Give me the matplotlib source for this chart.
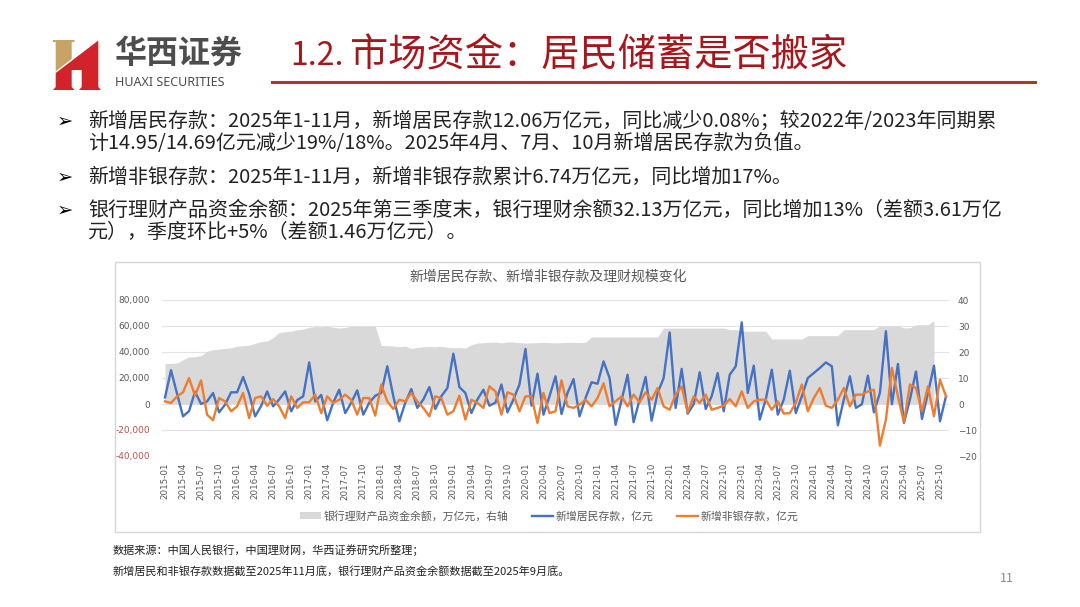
import numpy as np
import pandas as pd
import matplotlib
matplotlib.use('Agg')
import matplotlib.pyplot as plt
from matplotlib.patches import Rectangle, Polygon, Patch
from matplotlib.lines import Line2D
from matplotlib.ticker import FuncFormatter

plt.rcParams['font.family'] = ['Noto Sans CJK SC', 'DejaVu Sans']

# 月份 2015-01 ~ 2025-11
months = list(pd.date_range('2015-01-01', periods=131, freq='MS').strftime('%Y-%m'))

# 新增居民存款，亿元
household = [
    5000, 26000, 8000, -9500, -5500, 9500, 0, 2000, 8500, -6400, -500, 9000,
    9000, 20800, 8000, -9500, -1500, 9700, -1800, 3500, 9700, -5600, 3000, 5900,
    32000, 2000, 7000, -12500, 1000, 11000, -7000, 1000, 10500, -8200, 1000, 6400,
    8500, 29000, 6000, -13300, 1000, 11500, -3000, 3500, 13000, -3800, 6000, 12300,
    38700, 13000, 8500, -7000, 3500, 11000, -1300, 1000, 15000, -6400, 3500, 15000,
    42300, -1300, 23300, -8200, 6000, 21300, -7700, 8500, 19200, -9500, 4600, 16700,
    15600, 32800, 20000, -16000, 3000, 22500, -14000, 3500, 20800, -12800, 8500, 20000,
    55000, -3000, 27000, -7400, -200, 24400, -3800, 6000, 23800, -5600, 22500, 29000,
    62800, 8500, 29500, -12000, 3500, 26400, -8200, 3500, 25600, -7000, 6000, 20000,
    23800, 27700, 32000, 29000, -16400, 3500, 21300, -3000, -200, 21800, -6400, 8500,
    56000, -200, 30800, -14600, 3500, 25000, -11500, 8500, 29500, -13300, 6000,
]

# 新增非银存款，亿元
nonbank = [
    2000, 800, 5900, 9000, 20000, 6400, 18200, -8200, -12500, 4600, 2000, -5600,
    -1800, 8500, -10800, 4600, 5900, -1300, 3800, -1800, -10800, 5900, -3000, 1300,
    1300, 7200, -7000, 5900, 800, 3300, 7200, 3300, -8200, 4600, 4600, -9000,
    15000, 2000, -3800, 3300, 2000, 8500, 2000, -3000, -9500, 5900, 4600, -8200,
    -5600, 6400, -12000, 3300, 800, -3000, 13600, 9700, -8200, 9000, 7200, -5600,
    5900, 5900, -14600, 8500, -7000, -5600, 18200, -1800, -3000, -500, 3300, -1800,
    4600, 16000, -1800, 2000, 5900, -1800, 7200, 1300, 9000, 3300, 12300, -1800,
    -4400, 7200, 13600, -6400, 5900, 800, 7200, -4400, -3000, -1300, 3800, -1800,
    9700, -3000, 2000, 3300, 3300, -4400, 2000, -7400, -7000, 800, 15000, -5600,
    4600, 12300, -1300, -3000, 3300, 12300, -1800, 7200, 7200, 9700, 11000, -32000,
    -12000, 27700, 5900, -14000, 15000, 12300, -5600, 13600, -9500, 18700, 5900,
]

# 银行理财产品资金余额，万亿元（截至2025-09）
wmp = [
    15.5, 15.6, 15.8, 17.0, 18.1, 18.2, 18.6, 20.3, 20.9, 21.1, 21.4, 21.6,
    22.2, 22.4, 22.6, 23.3, 24.0, 24.2, 25.5, 27.5, 27.8, 28.0, 28.6, 28.8,
    29.5, 29.8, 29.7, 29.9, 29.5, 29.2, 29.4, 29.9, 30.0, 29.9, 30.0, 29.9,
    22.5, 22.4, 22.3, 22.0, 22.3, 21.3, 21.8, 22.0, 22.1, 22.0, 22.2, 21.8,
    21.6, 21.7, 21.5, 22.8, 23.4, 23.6, 23.7, 23.8, 23.5, 23.9, 23.8, 23.6,
    23.4, 23.5, 23.6, 23.7, 23.6, 23.5, 23.6, 23.7, 23.7, 23.6, 23.7, 25.8,
    25.8, 25.8, 25.8, 25.8, 25.8, 25.8, 25.8, 25.8, 25.8, 25.8, 25.8, 29.2,
    29.2, 29.2, 29.2, 29.2, 29.2, 29.2, 29.2, 29.2, 29.2, 29.2, 28.6, 28.6,
    28.0, 28.0, 28.0, 28.0, 28.0, 25.0, 25.0, 25.0, 25.0, 25.0, 25.0, 26.3,
    26.3, 26.3, 26.3, 26.3, 26.3, 28.6, 28.6, 28.6, 28.6, 28.6, 28.6, 30.1,
    30.1, 30.1, 30.1, 29.3, 29.3, 30.5, 30.5, 30.5, 32.1,
]

left_ticks = [-40000, -20000, 0, 20000, 40000, 60000, 80000]
right_ticks = [-20, -10, 0, 10, 20, 30, 40]

bullets = [
    ["新增居民存款：2025年1-11月，新增居民存款12.06万亿元，同比减少0.08%；较2022年/2023年同期累",
     "计14.95/14.69亿元减少19%/18%。2025年4月、7月、10月新增居民存款为负值。"],
    ["新增非银存款：2025年1-11月，新增非银存款累计6.74万亿元，同比增加17%。"],
    ["银行理财产品资金余额：2025年第三季度末，银行理财余额32.13万亿元，同比增加13%（差额3.61万亿",
     "元），季度环比+5%（差额1.46万亿元）。"],
]
notes = [
    "数据来源：中国人民银行，中国理财网，华西证券研究所整理；",
    "新增居民和非银存款数据截至2025年11月底，银行理财产品资金余额数据截至2025年9月底。",
]

W, H = 1080, 607


def fx(x):
    return x / W


def fy(y):
    return 1 - y / H


def poly(pts, color):
    fig.patches.append(Polygon([(fx(a), fy(b)) for a, b in pts], closed=True,
                               transform=fig.transFigure, color=color, lw=0))


fig = plt.figure(figsize=(10.8, 6.07), dpi=100)
fig.patch.set_facecolor('white')

# ---- 页眉 logo ----
poly([(53, 40), (74.5, 40), (74.5, 42), (71.7, 42), (71.7, 59), (55.7, 71.3),
      (55.7, 42), (53, 42)], '#C9A266')
poly([(55.7, 73), (97, 41.5), (98.3, 40.5), (98.3, 87), (101, 90), (79, 90),
      (81.7, 87), (81.7, 70), (71.7, 70), (71.7, 87), (74.5, 90), (53, 90),
      (55.7, 87)], '#D2232A')
fig.text(fx(114), fy(54), "华西证券", fontsize=23, fontweight='bold', color='#4D4D4D',
         ha='left', va='center')
fig.text(fx(115), fy(82), "HUAXI SECURITIES", fontsize=9, color='#4D4D4D',
         family='Noto Sans', ha='left', va='center')

# ---- 标题 ----
title_red = '#A8161C'
fig.text(fx(290), fy(56), "1.2.", fontsize=23, color=title_red, ha='left', va='center')
fig.text(fx(350), fy(56), "市场资金：居民储蓄是否搬家", fontsize=27.5, color=title_red,
         ha='left', va='center')
fig.lines.append(Line2D([fx(272), fx(1035)], [fy(82), fy(82)], transform=fig.transFigure,
                        color='#A63A2B', lw=2.2))

# ---- 要点 ----
line_y = [[121, 144], [177], [210, 232]]
for block, ys in zip(bullets, line_y):
    fig.text(fx(57), fy(ys[0]), "➢", fontsize=14, fontweight='bold', color='#000000',
             ha='left', va='center', family='DejaVu Sans')
    for s, y in zip(block, ys):
        fig.text(fx(88), fy(y), s, fontsize=14.4, color='#222222', ha='left', va='center')

# ---- 图表外框 ----
fig.patches.append(Rectangle((fx(115), fy(532)), (980 - 115) / W, (532 - 262) / H,
                             transform=fig.transFigure, facecolor='white',
                             edgecolor='#D6D6D6', lw=1.0, zorder=-1))
fig.text(fx(548), fy(277), "新增居民存款、新增非银存款及理财规模变化", fontsize=10,
         color='#595959', ha='center', va='center')

ax = fig.add_axes([fx(162), fy(456), (949 - 162) / W, (456 - 300) / H])
ax2 = ax.twinx()

x = np.arange(len(months))
xw = np.arange(len(wmp))

ax2.fill_between(xw, wmp, 0, color='#D9D9D9', lw=0, zorder=2)
ax2.set_ylim(-20, 40)
ax2.set_yticks(right_ticks)
ax2.set_axisbelow(True)
ax2.grid(axis='y', color='#E3E3E3', lw=0.8, zorder=0)

ax.set_zorder(ax2.get_zorder() + 1)
ax.patch.set_visible(False)
ax.plot(x, household, color='#4472C4', lw=1.7, solid_joinstyle='round')
ax.plot(x, nonbank, color='#ED7D31', lw=1.7, solid_joinstyle='round')
ax.set_ylim(-40000, 80000)
ax.set_yticks(left_ticks)
ax.yaxis.set_major_formatter(FuncFormatter(lambda v, p: f"{int(v):,}"))
ax.set_xlim(-0.5, len(months) - 0.5)
ax.set_xticks(x[::3])
ax.set_xticklabels(months[::3], rotation=90, fontsize=6.3, color='#595959',
                   family='DejaVu Sans')

for a in (ax, ax2):
    for sp in a.spines.values():
        sp.set_visible(False)
ax.tick_params(axis='y', length=0, pad=8.5, labelsize=6.5, labelcolor='#595959')
ax.tick_params(axis='x', length=0, pad=5)
ax2.tick_params(axis='y', length=0, pad=6.5, labelsize=6.5, labelcolor='#595959')
for lbl, v in zip(ax.get_yticklabels(), left_ticks):
    lbl.set_family('DejaVu Sans')
    if v < 0:
        lbl.set_color('#C0504D')
for lbl in ax2.get_yticklabels():
    lbl.set_family('DejaVu Sans')

handles = [Patch(facecolor='#D9D9D9', edgecolor='none'),
           Line2D([0], [0], color='#4472C4', lw=1.7),
           Line2D([0], [0], color='#ED7D31', lw=1.7)]
labels = ["银行理财产品资金余额，万亿元，右轴", "新增居民存款，亿元", "新增非银存款，亿元"]
fig.legend(handles, labels, loc='center', bbox_to_anchor=(fx(549), fy(516)), ncol=3,
           frameon=False, fontsize=7.8, handlelength=1.9, handleheight=0.5,
           handletextpad=0.25, columnspacing=2.2, labelcolor='#595959')

# ---- 注释与页码 ----
for s, y in zip(notes, [550, 571]):
    fig.text(fx(113), fy(y), s, fontsize=8, color='#222222', ha='left', va='center')
fig.text(fx(1007), fy(578), "11", fontsize=9, color='#8C8C8C', ha='center', va='center')

fig.savefig('out.png', dpi=100)
